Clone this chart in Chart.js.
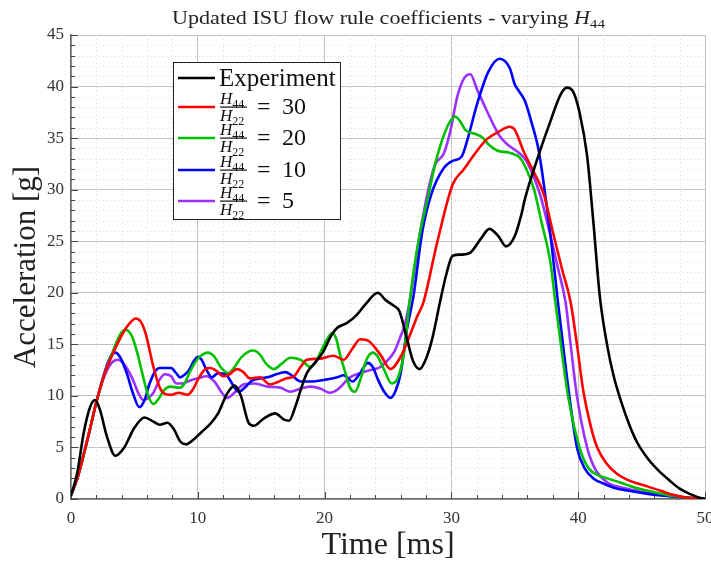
<!DOCTYPE html>
<html>
<head>
<meta charset="utf-8">
<script src="https://cdn.jsdelivr.net/npm/chart.js@4.4.1/dist/chart.umd.min.js"></script>
<style>
  html, body { margin: 0; padding: 0; background: #fff; }
  #wrap { width: 711px; height: 565px; position: relative; }
</style>
</head>
<body>
<div id="wrap"><canvas id="chart"></canvas></div>
<script>
// time [ms] / acceleration [g]
const expTime  = [0, 0.5, 1, 1.5, 1.9, 2.3, 2.8, 3.5, 4.2, 5, 5.8, 6.5, 7, 7.6, 8.1, 8.6, 9.1, 9.6, 10.3, 11, 11.6, 12.3, 12.9, 13.4, 14, 14.4, 15.2, 16.1, 16.8, 17.2, 17.7, 18.2, 18.6, 19.3, 19.9, 20.5, 21, 21.8, 22.5, 23.3, 24.2, 24.8, 25.4, 25.9, 26.5, 27, 27.5, 28, 28.5, 29.1, 29.6, 30.1, 30.8, 31.5, 32.3, 33, 33.7, 34.3, 35, 35.5, 35.8, 36.7, 37.8, 38.6, 39.1, 39.6, 40.1, 40.7, 41.2, 41.7, 42.3, 42.8, 43.4, 44, 44.6, 45.5, 46.3, 47.2, 48, 48.8, 49.5, 50];
const expAccel = [0.3, 2.6, 6.4, 8.9, 9.6, 8.6, 6.2, 4.2, 5.0, 6.9, 7.9, 7.5, 7.2, 7.4, 6.8, 5.6, 5.3, 5.7, 6.5, 7.3, 8.3, 10.2, 11.0, 10.0, 7.4, 7.1, 7.8, 8.3, 7.7, 7.6, 9.0, 10.9, 12.2, 13.3, 14.3, 15.8, 16.6, 17.1, 17.8, 19.0, 20.0, 19.3, 18.8, 18.2, 15.5, 13.3, 12.6, 13.6, 15.6, 19.1, 21.8, 23.6, 23.7, 23.9, 25.2, 26.2, 25.5, 24.5, 25.5, 27.5, 29.1, 32.7, 36.6, 39.2, 39.9, 39.5, 37.5, 33.3, 26.8, 19.7, 14.8, 11.9, 9.4, 7.3, 5.6, 3.9, 2.8, 1.8, 1.0, 0.5, 0.15, 0];

const h30Time  = [0, 0.5, 1, 1.5, 2, 2.7, 3.3, 4.1, 4.6, 5.1, 5.5, 5.9, 6.5, 7.0, 7.4, 7.9, 8.5, 9.2, 9.6, 10.1, 10.6, 11.0, 11.5, 12, 12.5, 13.1, 13.6, 14.1, 14.9, 15.7, 16.4, 17, 17.6, 18.1, 18.6, 19.6, 20.7, 21.5, 22.2, 22.8, 23.5, 24.4, 25.2, 26, 26.7, 27.3, 27.8, 28.9, 30.1, 31.0, 31.8, 32.8, 33.7, 34.6, 35.0, 35.7, 36.5, 37.3, 38.0, 38.7, 39.4, 39.9, 40.4, 41.0, 41.5, 42.2, 43, 43.8, 44.7, 45.5, 46.5, 47.5, 48.5, 50];
const h30Accel = [0.4, 2.0, 4.3, 6.8, 9.4, 12.3, 14.1, 16.1, 17.0, 17.5, 17.2, 16.0, 12.8, 10.8, 10.2, 10.1, 10.3, 10.1, 10.6, 11.8, 12.6, 12.7, 12.4, 11.9, 12.1, 12.6, 12.3, 11.7, 11.8, 11.1, 11.4, 11.7, 11.9, 12.8, 13.5, 13.6, 13.9, 13.5, 14.6, 15.5, 15.3, 14.0, 12.6, 13.8, 15.8, 17.7, 19.1, 25.0, 30.5, 32.0, 33.4, 34.9, 35.6, 36.1, 35.8, 33.7, 31.7, 29.5, 25.9, 22.4, 19.1, 15.0, 10.5, 7.0, 5.0, 3.5, 2.5, 1.9, 1.5, 1.2, 0.8, 0.4, 0.15, 0];

const h20Time  = [0, 0.5, 1, 1.5, 2, 2.7, 3.3, 3.9, 4.3, 4.8, 5.2, 5.7, 6.1, 6.5, 6.9, 7.3, 7.8, 8.6, 9.0, 9.4, 10.0, 10.5, 10.8, 11.3, 11.8, 12.4, 12.9, 13.4, 14.0, 14.4, 14.9, 15.4, 16.0, 16.6, 17.3, 18.1, 18.9, 19.3, 19.7, 20.2, 20.6, 20.9, 21.2, 21.7, 22.0, 22.4, 22.8, 23.3, 23.8, 24.2, 24.6, 25.3, 25.8, 26.3, 26.7, 27.4, 28.2, 28.7, 29.5, 30.0, 30.3, 30.7, 31.1, 31.9, 32.4, 33.0, 33.6, 34.5, 35.0, 35.4, 35.8, 36.5, 37.1, 37.8, 38.2, 38.6, 39.2, 40.1, 40.8, 41.6, 42.3, 43.3, 44.5, 45.5, 47, 48.5, 50];
const h20Accel = [0.4, 2.0, 4.3, 6.8, 9.4, 12.3, 14.3, 16.0, 16.4, 15.8, 14.3, 11.8, 10.0, 9.2, 9.7, 10.5, 10.9, 10.8, 11.3, 12.4, 13.6, 14.1, 14.2, 13.8, 12.8, 12.2, 12.8, 13.7, 14.3, 14.4, 14.0, 13.1, 12.6, 13.1, 13.7, 13.5, 12.8, 13.3, 14.3, 15.5, 16.1, 15.6, 14.1, 12.0, 10.8, 10.4, 11.5, 13.5, 14.2, 13.8, 12.8, 11.2, 11.8, 14.5, 19.1, 25.0, 29.5, 32.4, 35.6, 36.8, 37.1, 36.6, 35.8, 35.4, 35.1, 34.3, 33.8, 33.6, 33.4, 33.1, 32.3, 30.1, 26.9, 23.0, 19.1, 15.3, 10.0, 5.0, 3.0, 2.3, 2.0, 1.6, 1.1, 0.8, 0.4, 0.15, 0];

const h10Time  = [0, 0.5, 1, 1.5, 2, 2.7, 3.2, 3.5, 3.9, 4.4, 4.9, 5.4, 5.8, 6.2, 6.7, 7.0, 7.9, 8.3, 8.6, 9.0, 9.3, 9.7, 10.0, 10.3, 10.7, 11.1, 11.6, 12.2, 12.7, 13.2, 13.7, 14.3, 14.9, 15.5, 16.2, 16.9, 17.4, 18.1, 19.1, 20.2, 21.0, 21.5, 22.2, 22.8, 23.4, 23.8, 24.2, 24.7, 25.2, 25.6, 26.0, 26.5, 27.0, 27.7, 28.4, 29.4, 30.1, 30.8, 31.3, 32.0, 32.9, 33.8, 34.6, 35.0, 35.3, 35.8, 36.3, 36.9, 37.4, 37.9, 38.4, 38.8, 39.3, 39.9, 40.5, 41.2, 42, 42.8, 44, 45.5, 47, 48.5, 50];
const h10Accel = [0.4, 2.0, 4.3, 6.8, 9.4, 12.5, 14.0, 14.2, 13.7, 12.2, 10.2, 8.9, 9.6, 11.2, 12.5, 12.7, 12.7, 12.2, 11.8, 12.1, 12.5, 13.4, 13.8, 13.5, 12.5, 11.8, 12.2, 12.1, 11.2, 10.4, 10.8, 11.5, 11.7, 11.8, 12.1, 12.3, 12.0, 11.4, 11.4, 11.6, 11.8, 12.0, 11.4, 12.2, 13.2, 12.8, 11.6, 10.4, 9.8, 10.5, 12.2, 16.5, 19.6, 25.9, 29.5, 32.1, 32.8, 33.2, 35.0, 38.2, 41.4, 42.7, 41.8, 40.2, 39.6, 38.6, 36.6, 33.7, 29.5, 24.7, 19.1, 15.0, 10.0, 5.0, 3.0, 2.0, 1.5, 1.1, 0.8, 0.5, 0.3, 0.15, 0];

const h5Time  = [0, 0.5, 1, 1.5, 2, 2.6, 3.2, 3.7, 4.1, 4.8, 5.3, 5.7, 6.1, 6.5, 7.0, 7.4, 7.9, 8.3, 8.8, 9.2, 10.0, 10.7, 11.3, 11.9, 12.3, 12.8, 13.6, 14.5, 15.5, 16.5, 17.3, 18.1, 18.9, 19.7, 20.4, 21.0, 22.0, 22.8, 23.6, 24.4, 25.0, 25.5, 26.0, 26.3, 26.7, 27.5, 28.2, 28.7, 29.4, 29.9, 30.5, 31.2, 31.5, 32.0, 32.7, 33.4, 33.8, 34.5, 35.3, 35.8, 36.2, 37.0, 37.8, 38.4, 39.0, 39.4, 39.9, 40.7, 41.3, 42.3, 43.5, 45, 46.5, 48, 50];
const h5Accel = [0.4, 2.0, 4.3, 6.8, 9.4, 11.8, 13.2, 13.5, 13.2, 11.8, 10.3, 9.6, 9.8, 10.3, 11.6, 12.1, 11.9, 11.2, 11.2, 11.4, 11.7, 11.9, 11.4, 10.3, 9.8, 10.2, 11.1, 11.2, 10.9, 10.8, 10.4, 10.7, 10.9, 10.7, 10.3, 10.6, 11.8, 12.2, 12.5, 12.8, 13.5, 14.3, 15.8, 16.8, 19.1, 25.6, 30.1, 32.4, 33.5, 35.6, 39.2, 41.1, 41.2, 39.8, 37.9, 36.1, 35.2, 34.3, 33.6, 33.0, 32.1, 29.5, 25.6, 22.4, 19.1, 15.0, 10.0, 5.0, 3.0, 1.6, 1.1, 0.7, 0.4, 0.2, 0];

const xTicks = [0, 10, 20, 30, 40, 50];
const yTicks = [0, 5, 10, 15, 20, 25, 30, 35, 40, 45];
const ratios = ['30', '20', '10', '5'];

const serif = '"Liberation Serif", "DejaVu Serif", serif';

function pts(t, a) {
    return t.map((v, i) => ({ x: v, y: a[i] }));
}

function series(label, t, a, color) {
    return {
        label: label,
        data: pts(t, a),
        borderColor: color,
        backgroundColor: color,
        borderWidth: 2.6,
        pointRadius: 0,
        cubicInterpolationMode: 'monotone',
        fill: false
    };
}

// minor dotted grid + inward ticks
const axisDecor = {
    id: 'axisDecor',
    beforeDatasetsDraw(chart) {
        const ctx = chart.ctx;
        const xs = chart.scales.x, ys = chart.scales.y;
        const a = chart.chartArea;
        ctx.save();
        ctx.strokeStyle = '#dcdcdc';
        ctx.lineWidth = 1;
        ctx.setLineDash([1, 3]);
        for (let t = 2; t < 50; t += 2) {
            if (t % 10 === 0) continue;
            const px = Math.round(xs.getPixelForValue(t)) + 0.5;
            ctx.beginPath(); ctx.moveTo(px, a.top); ctx.lineTo(px, a.bottom); ctx.stroke();
        }
        for (let g = 1; g < 45; g++) {
            if (g % 5 === 0) continue;
            const py = Math.round(ys.getPixelForValue(g)) + 0.5;
            ctx.beginPath(); ctx.moveTo(a.left, py); ctx.lineTo(a.right, py); ctx.stroke();
        }
        ctx.setLineDash([]);
        ctx.strokeStyle = '#444';
        ctx.lineWidth = 1;
        for (let t = 0; t <= 50; t += 2) {
            const px = Math.round(xs.getPixelForValue(t)) + 0.5;
            const len = t % 10 === 0 ? 7 : 4;
            ctx.beginPath(); ctx.moveTo(px, a.bottom); ctx.lineTo(px, a.bottom - len); ctx.stroke();
        }
        for (let g = 0; g <= 45; g++) {
            const py = Math.round(ys.getPixelForValue(g)) + 0.5;
            const len = g % 5 === 0 ? 7 : 4;
            ctx.beginPath(); ctx.moveTo(a.left, py); ctx.lineTo(a.left + len, py); ctx.stroke();
        }
        ctx.restore();
    }
};

function drawHsub(ctx, x, y, sub, size) {
    ctx.font = 'italic ' + size + 'px ' + serif;
    ctx.textBaseline = 'alphabetic';
    ctx.textAlign = 'left';
    ctx.fillText('H', x, y);
    const w = ctx.measureText('H').width;
    ctx.font = Math.round(size * 0.7) + 'px ' + serif;
    ctx.fillText(sub, x + w, y + size * 0.22);
    return w + ctx.measureText(sub).width;
}

// title, axis titles and the legend box
const labels = {
    id: 'labels',
    afterDraw(chart) {
        const ctx = chart.ctx;
        ctx.save();
        ctx.fillStyle = '#222';

        // title, stretched to the width it has in the original
        const tMain = 'Updated ISU flow rule coefficients - varying ';
        ctx.font = '19px ' + serif;
        const w1 = ctx.measureText(tMain).width;
        ctx.font = 'italic 19px ' + serif;
        const wH = ctx.measureText('H').width;
        ctx.font = '13px ' + serif;
        const wS = ctx.measureText('44').width;
        const sx = 433 / (w1 + wH + wS);
        ctx.save();
        ctx.translate(172, 24);
        ctx.scale(sx, 1);
        ctx.font = '19px ' + serif;
        ctx.textAlign = 'left';
        ctx.textBaseline = 'alphabetic';
        ctx.fillText(tMain, 0, 0);
        drawHsub(ctx, w1, 0, '44', 19);
        ctx.restore();

        // axis titles
        ctx.font = '32px ' + serif;
        ctx.textAlign = 'center';
        ctx.textBaseline = 'middle';
        ctx.fillText('Time [ms]', 388, 546);
        ctx.save();
        ctx.translate(27, 267);
        ctx.rotate(-Math.PI / 2);
        ctx.font = '31px ' + serif;
        ctx.fillText('Acceleration [g]', 0, 0);
        ctx.restore();

        // legend
        const bx = 173.5, by = 62.5, bw = 167, bh = 157;
        ctx.fillStyle = '#fff';
        ctx.fillRect(bx, by, bw, bh);
        ctx.strokeStyle = '#222';
        ctx.lineWidth = 1;
        ctx.strokeRect(bx, by, bw, bh);
        const rows = [78, 107, 138, 170, 201];
        chart.data.datasets.forEach((ds, i) => {
            const y = rows[i];
            ctx.strokeStyle = ds.borderColor;
            ctx.lineWidth = 2.6;
            ctx.beginPath(); ctx.moveTo(178, y); ctx.lineTo(215, y); ctx.stroke();
            ctx.fillStyle = '#111';
            if (i === 0) {
                ctx.font = '25px ' + serif;
                ctx.textAlign = 'left';
                ctx.textBaseline = 'middle';
                ctx.fillText(ds.label, 219, y + 1);
            } else {
                drawHsub(ctx, 220, y - 3, '44', 17);
                ctx.fillRect(220, y - 0.5, 27, 1.2);
                drawHsub(ctx, 220, y + 14, '22', 17);
                ctx.font = '24px ' + serif;
                ctx.textAlign = 'left';
                ctx.textBaseline = 'middle';
                ctx.fillText('=', 257, y + 1);
                ctx.fillText(ratios[i - 1], 282, y + 1);
            }
        });
        ctx.restore();
    }
};

new Chart(document.querySelector('#chart').getContext('2d'), {
    type: 'line',
    data: {
        datasets: [
            series('Experiment', expTime, expAccel, '#000000'),
            series('H44/H22 = 30', h30Time, h30Accel, '#ff0000'),
            series('H44/H22 = 20', h20Time, h20Accel, '#00c000'),
            series('H44/H22 = 10', h10Time, h10Accel, '#0000ff'),
            series('H44/H22 = 5', h5Time, h5Accel, '#9b30ff')
        ]
    },
    options: {
        responsive: true,
        maintainAspectRatio: false,
        animation: false,
        layout: { padding: { top: 35, right: 6, left: 0, bottom: 0 } },
        plugins: {
            legend: { display: false },
            title: { display: false },
            tooltip: { enabled: false }
        },
        scales: {
            x: {
                type: 'linear',
                min: 0,
                max: 50,
                afterFit(s) { s.height = 66; s.paddingLeft = 0; s.paddingRight = 0; },
                afterBuildTicks(s) { s.ticks = xTicks.map(v => ({ value: v })); },
                ticks: {
                    autoSkip: false,
                    maxRotation: 0,
                    padding: 9,
                    color: '#333',
                    font: { family: serif, size: 17 }
                },
                grid: { color: '#c2c2c2', lineWidth: 1, drawTicks: false },
                border: { color: '#666', width: 1.5 }
            },
            y: {
                min: 0,
                max: 45,
                afterFit(s) { s.width = 71; s.paddingTop = 0; s.paddingBottom = 0; },
                afterBuildTicks(s) { s.ticks = yTicks.map(v => ({ value: v })); },
                ticks: {
                    autoSkip: false,
                    padding: 7,
                    color: '#333',
                    font: { family: serif, size: 17 }
                },
                grid: { color: '#c2c2c2', lineWidth: 1, drawTicks: false },
                border: { color: '#666', width: 1.5 }
            }
        }
    },
    plugins: [axisDecor, labels]
});
</script>
</body>
</html>
